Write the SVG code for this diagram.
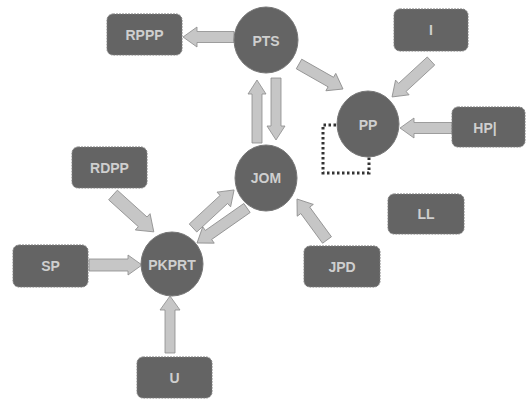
<svg xmlns="http://www.w3.org/2000/svg" width="526" height="399" viewBox="0 0 526 399">
<style>
.box{fill:#646464;stroke:#7a7a7a;stroke-width:1;stroke-dasharray:2 1}
.circ{fill:#646464;stroke:#777;stroke-width:1}
.lbl{fill:#cfcfcf;font-family:"Liberation Sans",Arial,sans-serif;font-size:14px;font-weight:bold;text-anchor:middle;dominant-baseline:central}
.arr{fill:#c6c6c6;stroke:#8c8c8c;stroke-width:0.8}
</style>
<rect width="526" height="399" fill="#ffffff"/>
<g id="connectors">
<polygon class="arr" transform="translate(234,37) rotate(180)" points="0,-5.5 37,-5.5 37,-10 51,0 37,10 37,5.5 0,5.5"/>
<polygon class="arr" transform="translate(299,64) rotate(29.6)" points="0,-5.5 36.6,-5.5 36.6,-10 50.6,0 36.6,10 36.6,5.5 0,5.5"/>
<polygon class="arr" transform="translate(431,61) rotate(137.3)" points="0,-5.5 39,-5.5 39,-10 53,0 39,10 39,5.5 0,5.5"/>
<polygon class="arr" transform="translate(452,128) rotate(180)" points="0,-5.5 38,-5.5 38,-10 52,0 38,10 38,5.5 0,5.5"/>
<polygon class="arr" transform="translate(257,143) rotate(-90)" points="0,-5 49,-5 49,-9 63,0 49,9 49,5 0,5"/>
<polygon class="arr" transform="translate(276,78) rotate(90)" points="0,-5 48,-5 48,-9 62,0 48,9 48,5 0,5"/>
<polygon class="arr" transform="translate(327,240) rotate(-126.2)" points="0,-5.5 36.8,-5.5 36.8,-10 50.8,0 36.8,10 36.8,5.5 0,5.5"/>
<polygon class="arr" transform="translate(113,195) rotate(42.1)" points="0,-6.5 40,-6.5 40,-11 55,0 40,11 40,6.5 0,6.5"/>
<polygon class="arr" transform="translate(89,265) rotate(0)" points="0,-6 39,-6 39,-10 53,0 39,10 39,6 0,6"/>
<polygon class="arr" transform="translate(170,353) rotate(-90)" points="0,-5 43,-5 43,-10 57,0 43,10 43,5 0,5"/>
<polygon class="arr" transform="translate(193,228) rotate(-42.8)" points="0,-5.5 42,-5.5 42,-10 56,0 42,10 42,5.5 0,5.5"/>
<polygon class="arr" transform="translate(247,208) rotate(145)" points="0,-5.5 47,-5.5 47,-10 61,0 47,10 47,5.5 0,5.5"/>
<path d="M336,125 H323 V173 H369 V157" fill="none" stroke="#333" stroke-width="3" stroke-dasharray="2.5 2.5"/>
</g>
<g id="RPPP"><rect class="box" x="107" y="14" width="75" height="41" rx="6"/><text class="lbl" x="144.5" y="35">RPPP</text></g>
<g id="PTS"><ellipse class="circ" cx="266" cy="40" rx="32" ry="33"/><text class="lbl" x="266" y="41">PTS</text></g>
<g id="I"><rect class="box" x="394" y="9" width="74" height="42" rx="6"/><text class="lbl" x="431" y="30">I</text></g>
<g id="PP"><ellipse class="circ" cx="368" cy="124" rx="31" ry="33"/><text class="lbl" x="368" y="125">PP</text></g>
<g id="HPI"><rect class="box" x="452" y="107" width="73" height="40" rx="6"/><text class="lbl" x="485" y="128">HP|</text></g>
<g id="JOM"><ellipse class="circ" cx="266" cy="178" rx="31" ry="33"/><text class="lbl" x="266" y="178">JOM</text></g>
<g id="RDPP"><rect class="box" x="72" y="147" width="75" height="41" rx="6"/><text class="lbl" x="109.5" y="168">RDPP</text></g>
<g id="LL"><rect class="box" x="388" y="194" width="76" height="40" rx="6"/><text class="lbl" x="426" y="214">LL</text></g>
<g id="SP"><rect class="box" x="13" y="245" width="75" height="42" rx="6"/><text class="lbl" x="50.5" y="266">SP</text></g>
<g id="PKPRT"><ellipse class="circ" cx="172" cy="264" rx="31" ry="32"/><text class="lbl" x="172" y="265">PKPRT</text></g>
<g id="JPD"><rect class="box" x="304" y="246" width="76" height="41" rx="6"/><text class="lbl" x="342" y="267">JPD</text></g>
<g id="U"><rect class="box" x="137" y="357" width="75" height="41" rx="6"/><text class="lbl" x="174.5" y="378">U</text></g>
</svg>
